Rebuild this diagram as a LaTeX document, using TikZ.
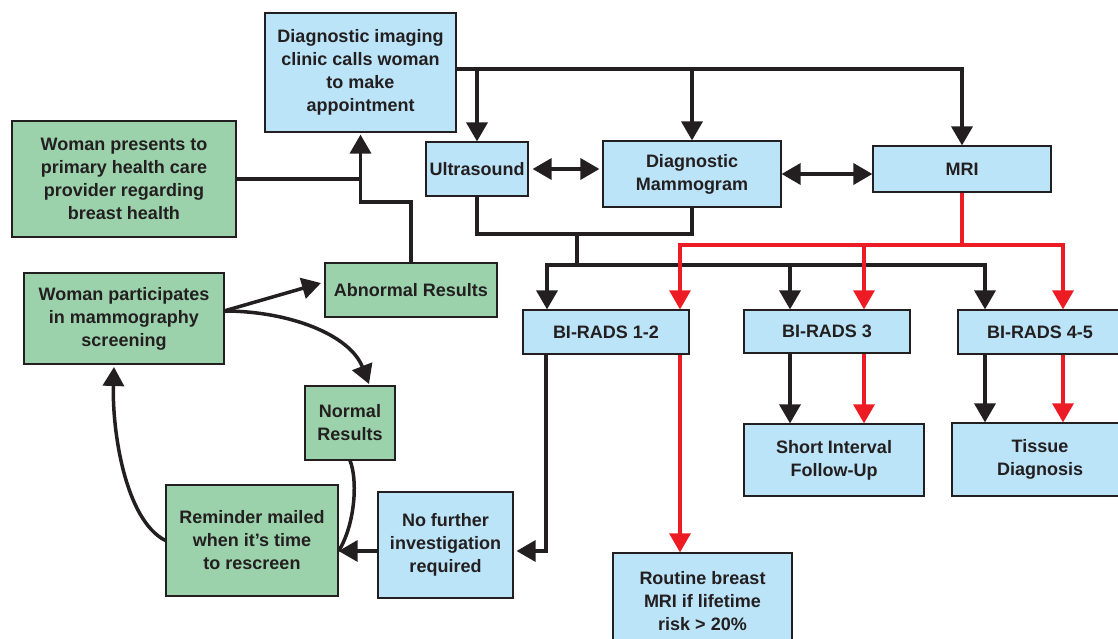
\documentclass[tikz,border=0pt]{standalone}
\usepackage{fontspec}
\setmainfont{Liberation Sans}
\usetikzlibrary{arrows.meta}
\definecolor{ink}{HTML}{231F20}
\definecolor{bluef}{RGB}{187,228,248}
\definecolor{greenf}{RGB}{155,210,172}
\definecolor{redl}{RGB}{237,28,36}
\begin{document}
\begin{tikzpicture}[x=1pt,y=-1pt,
 box/.style={draw=ink, line width=1.2pt, inner sep=0pt, align=center, text=ink, font=\fontsize{18}{23}\selectfont\bfseries},
 bbox/.style={box, fill=bluef},
 gbox/.style={box, fill=greenf},
 ln/.style={draw=ink, line width=3.5pt},
 arr/.style={ln, -{Triangle[width=21pt,length=19pt]}},
 darr/.style={ln, {Triangle[width=21pt,length=19pt]}-{Triangle[width=21pt,length=19pt]}},
 rln/.style={draw=redl, line width=3.2pt},
 rarr/.style={rln, -{Triangle[width=21pt,length=19pt]}},
]
\useasboundingbox (0,0) rectangle (1118,639);

% nodes
\node[bbox, minimum width=191pt, minimum height=119pt] (clinic) at (360.5,72.5) {Diagnostic imaging\\clinic calls woman\\to make\\appointment};
\node[gbox, minimum width=224pt, minimum height=116pt] (wpres) at (124,179) {Woman presents to\\primary health care\\provider regarding\\breast health};
\node[bbox, minimum width=102pt, minimum height=54pt] (us) at (477,169) {Ultrasound};
\node[bbox, minimum width=178pt, minimum height=66pt] (mammo) at (692,174) {Diagnostic\\Mammogram};
\node[bbox, minimum width=178pt, minimum height=46pt] (mri) at (962,169) {MRI};
\node[gbox, minimum width=172pt, minimum height=54pt] (abn) at (411,290) {Abnormal Results};
\node[gbox, minimum width=200pt, minimum height=91pt] (wpart) at (124,318.5) {Woman participates\\in mammography\\screening};
\node[gbox, minimum width=90pt, minimum height=74pt] (norm) at (350,423) {Normal\\Results};
\node[gbox, minimum width=172pt, minimum height=111pt] (rem) at (252,540.5) {Reminder mailed\\when it’s time\\to rescreen};
\node[bbox, minimum width=135pt, minimum height=106pt] (nof) at (445.5,545) {No further\\investigation\\required};
\node[bbox, minimum width=166pt, minimum height=44pt] (b12) at (606,332) {BI-RADS 1-2};
\node[bbox, minimum width=166pt, minimum height=43pt] (b3) at (827,331.5) {BI-RADS 3};
\node[bbox, minimum width=164pt, minimum height=44pt] (b45) at (1040,332) {BI-RADS 4-5};
\node[bbox, minimum width=180pt, minimum height=72pt] (short) at (834,460) {Short Interval\\Follow-Up};
\node[bbox, minimum width=176pt, minimum height=73pt] (tis) at (1040,459.5) {Tissue\\Diagnosis};
\node[bbox, minimum width=179pt, minimum height=96pt] (rout) at (702.5,601) {Routine breast\\MRI if lifetime\\risk > 20\%};

% coordinates
\coordinate (m1) at (360.5,202);
\coordinate (c1) at (456,69);
\coordinate (j1) at (577,234);
\coordinate (j2) at (577,265);
\coordinate (t1) at (547,265);
\coordinate (t2) at (790,265);
\coordinate (t3) at (985,265);
\coordinate (r0) at (962,245);
\coordinate (r1) at (680,245);
\coordinate (r2) at (864,245);
\coordinate (r3) at (1063,245);
\coordinate (k1) at (546,551);
\coordinate (p0) at (224,311);
\coordinate (p1) at (321,283);
\coordinate (p2) at (369,384);
\coordinate (q0) at (114,367);

% left part
\draw[ln] (wpres.east) -- (wpres.east -| clinic.south);
\draw[arr, shorten >=2pt] (abn.north) |- (m1) -- (clinic.south);
\draw[arr] (p0) -- (p1);
\draw[arr] (p0) .. controls (290,311) and (350,335) .. (p2);
\draw[ln] (norm.south) .. controls (358,480) and (355,525) .. (k1 -| rem.east);
\draw[arr] (rem.west) .. controls (125,520) and (112,430) .. (q0);
\draw[arr] (k1 -| nof.west) -- (k1 -| rem.east);

% top distribution
\draw[arr] (c1) -| (mri.north);
\draw[arr] (c1 -| us.north) -- (us.north);
\draw[arr] (c1 -| mammo.north) -- (mammo.north);
\draw[darr, shorten <=4pt, shorten >=3pt] (us.east) -- (us.east -| mammo.west);
\draw[darr] (mammo.east) -- (mammo.east -| mri.west);

% black bus
\draw[ln] (us.south) |- (j1) -- (j2);
\draw[ln] (mammo.south) |- (j1);
\draw[arr] (j2) -- (t1) -- (t1 |- b12.north);
\draw[arr] (j2) -- (t3) -- (t3 |- b45.north);
\draw[arr] (t2) -- (t2 |- b3.north);
\draw[arr] (t2 |- b3.south) -- (t2 |- short.north);
\draw[arr] (t3 |- b45.south) -- (t3 |- tis.north);
\draw[arr, shorten >=3pt] (k1 |- b12.south) -- (k1) -- (k1 -| nof.east);

% red bus
\draw[rln] (mri.south) -- (r0);
\draw[rarr] (r0) -- (r1) -- (r1 |- b12.north);
\draw[rarr] (r0) -- (r3) -- (r3 |- b45.north);
\draw[rarr] (r2) -- (r2 |- b3.north);
\draw[rarr] (r2 |- b3.south) -- (r2 |- short.north);
\draw[rarr] (r3 |- b45.south) -- (r3 |- tis.north);
\draw[rarr] (r1 |- b12.south) -- (r1 |- rout.north);
\end{tikzpicture}
\end{document}
